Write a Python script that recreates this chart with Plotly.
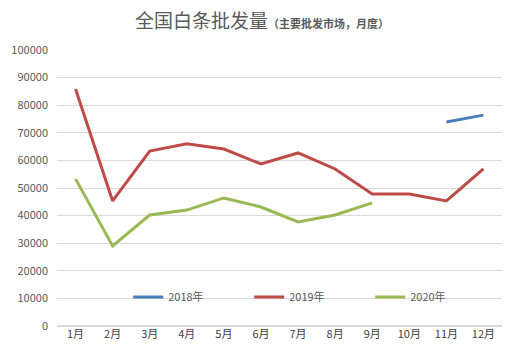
import plotly.graph_objects as go

months = ["1月", "2月", "3月", "4月", "5月", "6月", "7月", "8月", "9月", "10月", "11月", "12月"]
y2018 = [None, None, None, None, None, None, None, None, None, None, 73900, 76400]
y2019 = [85900, 45300, 63400, 66000, 64100, 58700, 62700, 56900, 47800, 47800, 45300, 56900]
y2020 = [53300, 29000, 40200, 42000, 46400, 43100, 37700, 40200, 44600, None, None, None]

fig = go.Figure()
fig.add_trace(go.Scatter(x=months, y=y2018, name="2018年", mode="lines",
                         line=dict(color="#4A7EBB", width=3)))
fig.add_trace(go.Scatter(x=months, y=y2019, name="2019年", mode="lines",
                         line=dict(color="#BE4B48", width=3)))
fig.add_trace(go.Scatter(x=months, y=y2020, name="2020年", mode="lines",
                         line=dict(color="#98B954", width=3)))

fig.update_layout(
    width=516, height=354,
    margin=dict(l=57, r=14, t=50, b=28),
    paper_bgcolor="white", plot_bgcolor="white",
    font=dict(family="Noto Sans CJK SC, sans-serif", size=11, color="#595959"),
    showlegend=True,
    legend=dict(orientation="h", x=0.16, y=0.105, xanchor="left", yanchor="middle",
                bgcolor="rgba(0,0,0,0)", font=dict(size=11, color="#595959"),
                entrywidth=76, itemwidth=30, tracegroupgap=0),
    annotations=[
        dict(text="<span style='font-size:19px'>全国白条批发量</span><b><span style='font-size:11px'>（主要批发市场，月度）</span></b>",
             x=0.46, y=1.109, xref="paper", yref="paper", xanchor="center", yanchor="middle",
             showarrow=False, font=dict(color="#595959", family="Noto Sans CJK SC, sans-serif")),
    ],
)
fig.update_xaxes(range=[-0.5, 11.5], showgrid=False, showline=False, ticks="",
                 tickfont=dict(size=11, color="#404040"))
fig.update_yaxes(range=[0, 100000], dtick=10000, showgrid=True, gridcolor="#D9D9D9", gridwidth=1,
                 zeroline=True, zerolinecolor="#D9D9D9", tickformat="d",
                 tickfont=dict(size=11, color="#595959"), ticklabelstandoff=8)

fig.write_html("out.html")
